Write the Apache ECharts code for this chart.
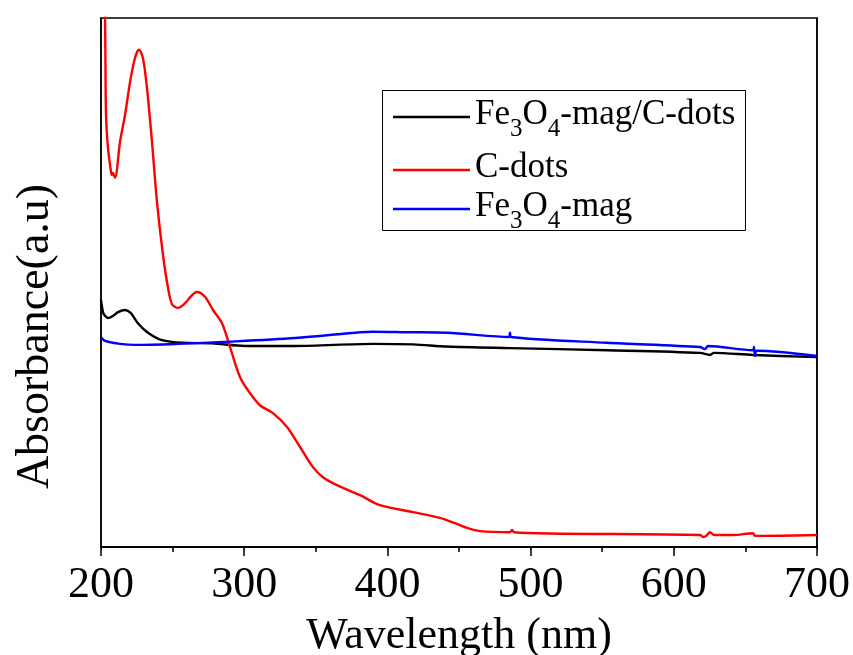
<!DOCTYPE html>
<html>
<head>
<meta charset="utf-8">
<script src="https://cdn.jsdelivr.net/npm/echarts@6/dist/echarts.min.js"></script>
<style>html,body{margin:0;padding:0;background:#fff}#c{width:853px;height:655px}</style>
</head>
<body>
<div id="c"></div>
<script>
// ---- data ----
const xTicks = [200, 300, 400, 500, 600, 700];

const compWl  = [200, 201.4, 202.8, 204.9, 208.4, 211.9, 216.8, 220.9, 225.8, 232.8, 242.6, 256.6, 277.5, 300.6, 335.5, 390, 417.9, 441.6, 485.6, 553.3, 618.3, 625.3, 628, 655.3, 700];
const compAbs = [0.467, 0.444, 0.437, 0.433, 0.437, 0.444, 0.448, 0.442, 0.423, 0.405, 0.391, 0.386, 0.385, 0.380, 0.380, 0.384, 0.383, 0.379, 0.376, 0.372, 0.367, 0.363, 0.367, 0.363, 0.359];

const cdotsWl  = [200.8, 202.8, 203.5, 204.9, 207.0, 207.7, 208.4, 209.8, 213.3, 216.8, 220.3, 223.7, 226.5, 229.3, 232.1, 235.6, 239.1, 243.3, 246.8, 249.6, 253.8, 258.7, 262.8, 267.0, 272.6, 278.2, 284.5, 290.1, 297.1, 304.0, 311.0, 320.1, 329.9, 339.0, 348.0, 355.0, 364.8, 380.9, 394.8, 417.9, 436.7, 447.2, 455.6, 464.7, 485.6, 487.0, 488.4, 513.5, 618.3, 620.4, 622.5, 625.3, 628.1, 641.3, 655.3, 656.7, 700];
const cdotsAbs = [1.2, 1.0, 0.817, 0.754, 0.709, 0.703, 0.707, 0.698, 0.766, 0.817, 0.879, 0.924, 0.940, 0.924, 0.868, 0.766, 0.652, 0.552, 0.490, 0.459, 0.452, 0.461, 0.474, 0.482, 0.473, 0.448, 0.423, 0.378, 0.321, 0.291, 0.268, 0.253, 0.227, 0.189, 0.151, 0.132, 0.117, 0.098, 0.079, 0.066, 0.055, 0.045, 0.036, 0.030, 0.028, 0.032, 0.028, 0.0255, 0.0227, 0.019, 0.021, 0.028, 0.0227, 0.0227, 0.026, 0.021, 0.0227];

const magWl  = [200, 202, 204.9, 213.3, 223.7, 253.8, 288.7, 335.5, 380.9, 390, 413.7, 441.6, 484.9, 485.6, 486.3, 553.3, 618.3, 621.8, 623.9, 655.3, 656, 656.7, 658, 700];
const magAbs = [0.397, 0.391, 0.388, 0.384, 0.382, 0.384, 0.388, 0.395, 0.406, 0.407, 0.406, 0.405, 0.397, 0.405, 0.397, 0.386, 0.378, 0.374, 0.380, 0.372, 0.378, 0.361, 0.371, 0.361];

const seriesNames = ['Fe3O4-mag/C-dots', 'C-dots', 'Fe3O4-mag'];
const legendRich  = {
  'Fe3O4-mag/C-dots': '{n|Fe}{s|3}{n|O}{s|4}{n|-mag/C-dots}',
  'C-dots': '{n|C-dots}',
  'Fe3O4-mag': '{n|Fe}{s|3}{n|O}{s|4}{n|-mag}'
};
const colors = ['#000000', '#ff0000', '#0000ff'];

function zip(a, b) { return a.map((v, i) => [v, b[i]]); }

const font = "'Liberation Serif', 'Times New Roman', serif";
const rich = {
  n: { fontFamily: font, fontSize: 35, lineHeight: 40, verticalAlign: 'top', color: '#000' },
  s: { fontFamily: font, fontSize: 25, lineHeight: 24, padding: [20, 0, 0, 0], verticalAlign: 'top', color: '#000' }
};
function mkLegend(name, top) {
  return {
    data: [name], left: 393, top: top, orient: 'vertical', padding: 0,
    icon: 'rect', itemWidth: 77, itemHeight: 2.5, selectedMode: false,
    formatter: n => legendRich[n],
    textStyle: { rich: rich }
  };
}

const chart = echarts.init(document.getElementById('c'), null, { renderer: 'canvas' });
chart.setOption({
  animation: false,
  backgroundColor: '#fff',
  grid: { left: 101, right: 36, top: 18, bottom: 108, outerBoundsMode: 'none', containLabel: false,
          show: true, borderColor: '#000', borderWidth: 1.5 },
  legend: [mkLegend(seriesNames[0], 97), mkLegend(seriesNames[1], 150), mkLegend(seriesNames[2], 189)],
  graphic: [{
    type: 'rect', shape: { x: 382.5, y: 90.5, width: 363, height: 140 },
    style: { fill: 'none', stroke: '#000', lineWidth: 1 }, z: 1
  }],
  xAxis: [{
    type: 'value', min: xTicks[0], max: xTicks[xTicks.length - 1], interval: 100,
    name: 'Wavelength (nm)', nameLocation: 'middle', nameGap: 67,
    nameTextStyle: { fontFamily: font, fontSize: 44, color: '#000' },
    axisLine: { show: true, lineStyle: { color: '#000', width: 1.5 } },
    axisTick: { show: true, inside: false, length: 9, lineStyle: { color: '#000', width: 1.5 } },
    minorTick: { show: true, splitNumber: 2, length: 5, lineStyle: { color: '#000', width: 1.5 } },
    axisLabel: { fontFamily: font, fontSize: 44, color: '#000', margin: 16 },
    splitLine: { show: false }
  }, {
    type: 'value', position: 'top', min: 200, max: 700, interval: 100,
    axisLine: { show: true, lineStyle: { color: '#000', width: 1.5 } },
    axisTick: { show: true, inside: true, length: 3, lineStyle: { color: '#000' } },
    minorTick: { show: true, splitNumber: 2, length: 2, lineStyle: { color: '#000' } },
    axisLabel: { show: false }, splitLine: { show: false }
  }],
  yAxis: [{
    type: 'value', min: 0, max: 1,
    name: 'Absorbance(a.u)', nameLocation: 'middle', nameGap: 42,
    nameTextStyle: { fontFamily: font, fontSize: 46, color: '#000', padding: [0, 108, 0, 0] },
    axisLine: { show: true, lineStyle: { color: '#000', width: 1.5 } },
    axisTick: { show: false }, axisLabel: { show: false }, splitLine: { show: false }
  }, {
    type: 'value', position: 'right', min: 0, max: 1,
    axisLine: { show: true, lineStyle: { color: '#000', width: 1.5 } },
    axisTick: { show: false }, axisLabel: { show: false }, splitLine: { show: false }
  }],
  series: [
    { name: seriesNames[0], type: 'line', data: zip(compWl, compAbs), color: colors[0] },
    { name: seriesNames[1], type: 'line', data: zip(cdotsWl, cdotsAbs), color: colors[1] },
    { name: seriesNames[2], type: 'line', data: zip(magWl, magAbs), color: colors[2] }
  ].map(s => Object.assign(s, {
    showSymbol: false, symbol: 'none', smooth: 0.3, clip: true,
    lineStyle: { width: 2.4, color: s.color }, z: 3
  }))
});
</script>
</body>
</html>
